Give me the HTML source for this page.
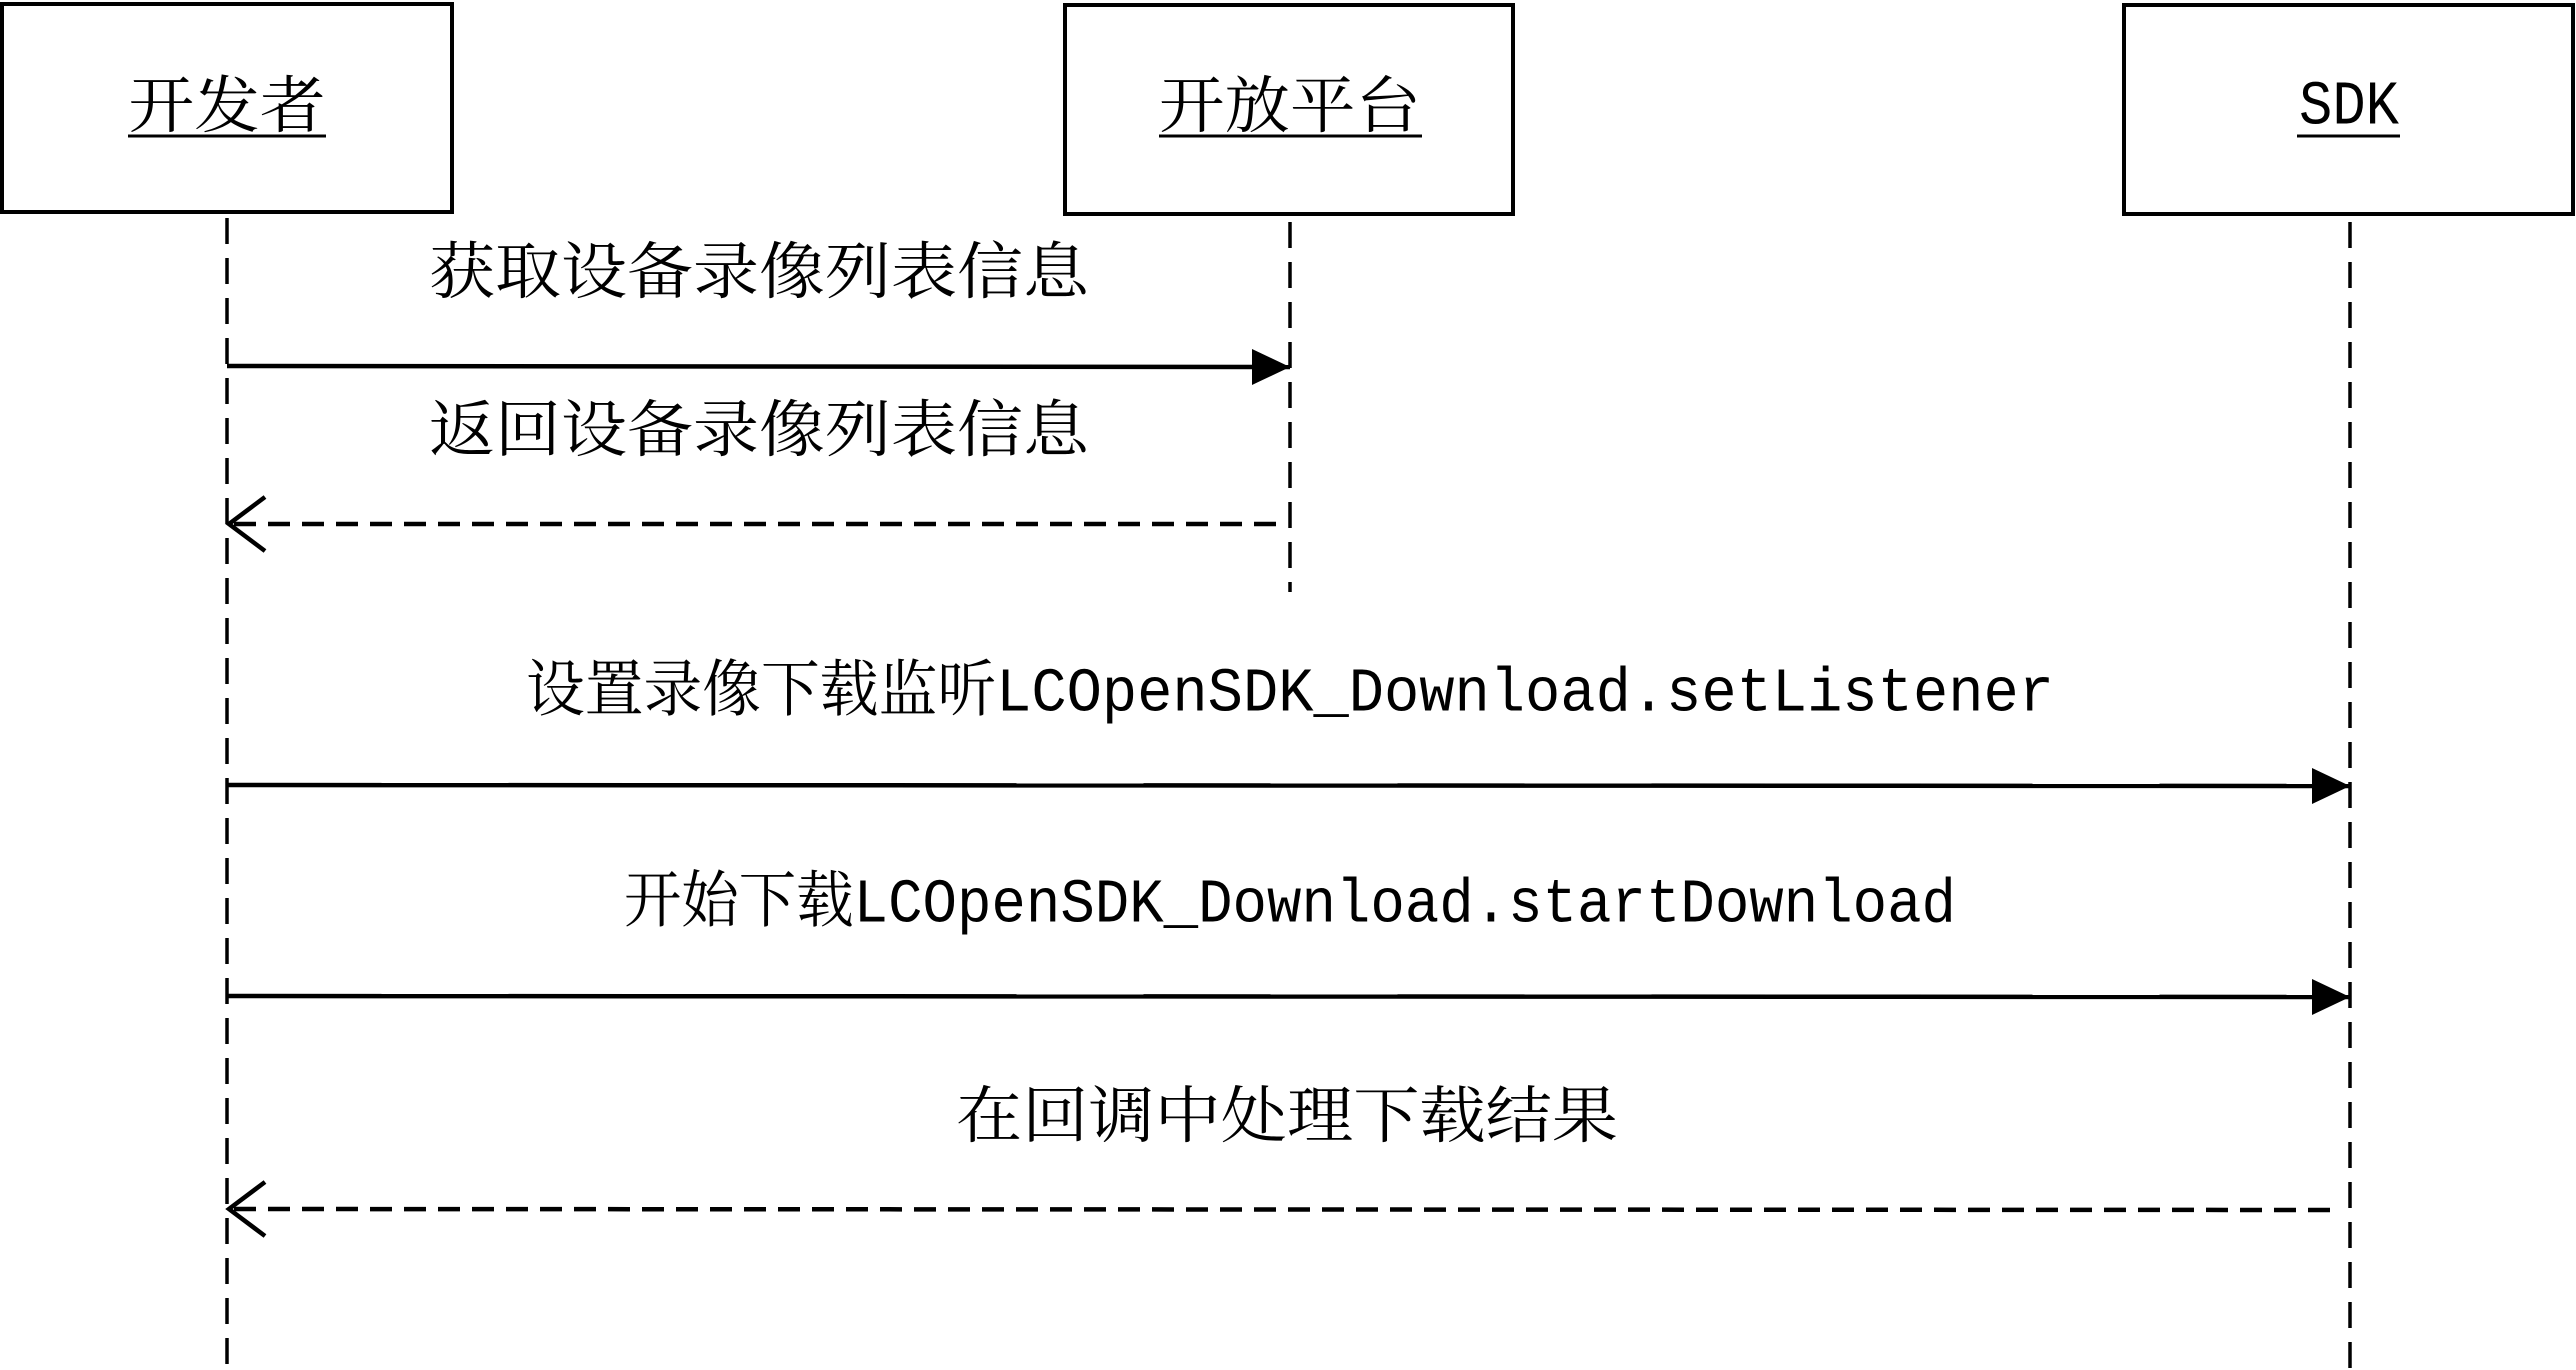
<!DOCTYPE html>
<html><head><meta charset="utf-8"><style>html,body{margin:0;padding:0;background:#fff}svg{display:block}</style></head>
<body>
<svg width="2576" height="1370" viewBox="0 0 2576 1370" xmlns="http://www.w3.org/2000/svg" font-family="'Liberation Serif','Noto Serif CJK SC',serif" fill="#000">
<defs>
<marker id="f" markerWidth="40" markerHeight="40" refX="38" refY="20" orient="auto" markerUnits="userSpaceOnUse"><path d="M0,2 L38,20 L0,38 Z" fill="#000"/></marker>
</defs>
<g fill="#fff" stroke="#000" stroke-width="4">
<rect x="2" y="4" width="450" height="208"/>
<rect x="1065" y="5" width="448" height="209"/>
<rect x="2124" y="5" width="449" height="209"/>
</g>
<g stroke="#000" stroke-width="3.5" stroke-dasharray="26,14">
<line x1="227" y1="218" x2="227" y2="1370"/>
<line x1="1290" y1="222" x2="1290" y2="592"/>
<line x1="2350" y1="222" x2="2350" y2="1370"/>
</g>
<g font-size="62" text-anchor="middle" dominant-baseline="central">
<text x="227" y="107" textLength="197" lengthAdjust="spacingAndGlyphs">开发者</text>
<text x="1290" y="107" textLength="262" lengthAdjust="spacingAndGlyphs">开放平台</text>
<text x="2349" y="107" textLength="100" lengthAdjust="spacingAndGlyphs" font-family="'Liberation Mono',monospace">SDK</text>
</g>
<g stroke="#000" stroke-width="3">
<line x1="128" y1="136" x2="326" y2="136"/>
<line x1="1159" y1="136" x2="1422" y2="136"/>
<line x1="2297" y1="136" x2="2400" y2="136"/>
</g>
<g font-size="62" text-anchor="middle" dominant-baseline="central">
<text x="759" y="273" textLength="660" lengthAdjust="spacingAndGlyphs">获取设备录像列表信息</text>
<text x="759" y="431" textLength="660" lengthAdjust="spacingAndGlyphs">返回设备录像列表信息</text>
<text x="1290" y="694" textLength="1528" lengthAdjust="spacingAndGlyphs" font-family="'Liberation Mono','Noto Serif CJK SC',monospace">设置录像下载监听LCOpenSDK_Download.setListener</text>
<text x="1290" y="905" textLength="1332" lengthAdjust="spacingAndGlyphs" font-family="'Liberation Mono','Noto Serif CJK SC',monospace">开始下载LCOpenSDK_Download.startDownload</text>
<text x="1287" y="1117" textLength="662" lengthAdjust="spacingAndGlyphs">在回调中处理下载结果</text>
</g>
<g stroke="#000" stroke-width="4.5" fill="none">
<line x1="227" y1="366" x2="1290" y2="367" marker-end="url(#f)"/>
<line x1="227" y1="785" x2="2350" y2="786" marker-end="url(#f)"/>
<line x1="227" y1="996" x2="2350" y2="997" marker-end="url(#f)"/>
<line x1="234" y1="524" x2="1276" y2="524" stroke-dasharray="22,12"/>
<line x1="234" y1="1209" x2="2338" y2="1210" stroke-dasharray="22,12"/>
<polyline points="265,497 229,524 265,551"/>
<polyline points="265,1182 229,1209 265,1236"/>
</g>
</svg>
</body></html>
